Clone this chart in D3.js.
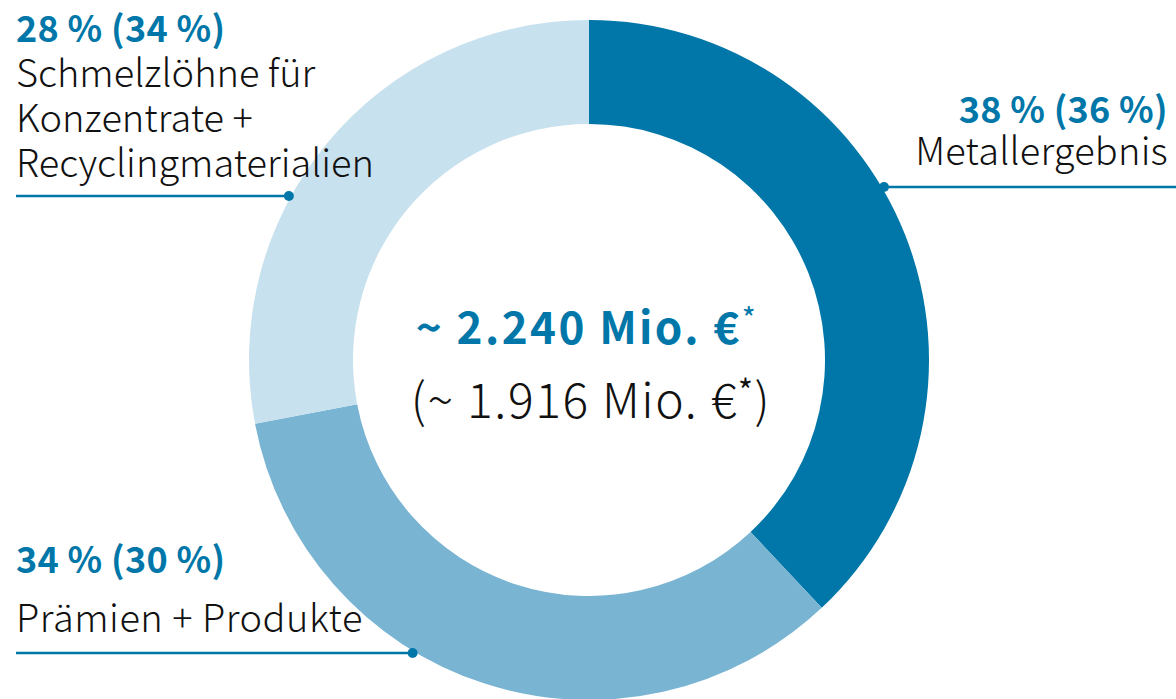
<!DOCTYPE html>
<html><head><meta charset="utf-8">
<script src="https://cdn.jsdelivr.net/npm/d3@7"></script>
<style>
html,body{margin:0;padding:0;background:#fff;}
svg{display:block;}
</style></head>
<body><svg id="chart" width="1176" height="699"></svg>
<script>
const categories = ["Metallergebnis", "Prämien + Produkte", "Schmelzlöhne für Konzentrate + Recyclingmaterialien"];
const shares = [38, 34, 28];
const prevShares = [36, 30, 34];
const labelLines = [["Metallergebnis"], ["Prämien + Produkte"], ["Schmelzlöhne für", "Konzentrate +", "Recyclingmaterialien"]];
const colors = ["#0077A8", "#79B4D2", "#C8E1EE"];
const totalCurrent = "2.240";
const totalPrevious = "1.916";

const W = 1176, H = 699;
const cx = 589, cy = 360, R = 340, r = 236;
const blue = "#0077A8";
const font = "'Noto Sans CJK JP', 'Noto Sans', sans-serif";

const svg = d3.select("#chart");
const g = svg.append("g").attr("transform", `translate(${cx},${cy})`);

const pie = d3.pie().sort(null).value(d => d)(shares);
const arc = d3.arc().innerRadius(r).outerRadius(R);
g.selectAll("path").data(pie).enter().append("path")
  .attr("d", arc).attr("fill", (d, i) => colors[i]);

const layout = [
  {side: "right", lineY: 187, pctY: 123, nameY: [165], ls: 0.2},
  {side: "left", lineY: 653, pctY: 573, nameY: [632], ls: 0.5},
  {side: "left", lineY: 196, pctY: 42, nameY: [87, 132, 177], ls: 0}
];
const fmt = v => `${v} %`;

layout.forEach((L, i) => {
  const dy = L.lineY - cy;
  const dx = Math.sqrt((R + 2) ** 2 - dy * dy);
  const dotX = L.side === "right" ? cx + dx : cx - dx;
  const x0 = L.side === "right" ? W : 16;
  const textX = L.side === "right" ? 1168 : 16;
  const anchor = L.side === "right" ? "end" : "start";
  svg.append("line").attr("x1", x0).attr("x2", dotX).attr("y1", L.lineY).attr("y2", L.lineY)
    .attr("stroke", blue).attr("stroke-width", 2.5);
  svg.append("circle").attr("cx", dotX).attr("cy", L.lineY).attr("r", 5).attr("fill", blue);
  svg.append("text").attr("x", textX).attr("y", L.pctY).attr("text-anchor", anchor)
    .attr("font-family", font).attr("font-weight", 700).attr("font-size", 36)
    .attr("letter-spacing", 0.3).attr("fill", blue)
    .text(`${fmt(shares[i])} (${fmt(prevShares[i])})`);
  labelLines[i].forEach((t, j) => {
    svg.append("text").attr("x", textX).attr("y", L.nameY[j]).attr("text-anchor", anchor)
      .attr("font-family", font).attr("font-weight", 300).attr("font-size", 38)
      .attr("letter-spacing", L.ls).attr("fill", "#111")
      .text(t);
  });
});

// center
const t1 = svg.append("text").attr("x", cx - 2).attr("y", 344).attr("text-anchor", "middle")
  .attr("font-family", font).attr("font-weight", 700).attr("font-size", 44)
  .attr("letter-spacing", 2.4).attr("fill", blue);
t1.append("tspan").text(`~ ${totalCurrent} Mio. €`);
t1.append("tspan").attr("font-size", 30).attr("font-weight", 400).attr("dy", -14).text("*");

const t2 = svg.append("text").attr("x", cx + 2).attr("y", 418).attr("text-anchor", "middle")
  .attr("font-family", font).attr("font-weight", 300).attr("font-size", 48)
  .attr("letter-spacing", 1.6).attr("fill", "#111");
t2.append("tspan").text(`(~ ${totalPrevious} Mio. €`);
t2.append("tspan").attr("font-size", 32).attr("font-weight", 400).attr("dy", -15).text("*");
t2.append("tspan").attr("dy", 15).text(")");
</script></body></html>
